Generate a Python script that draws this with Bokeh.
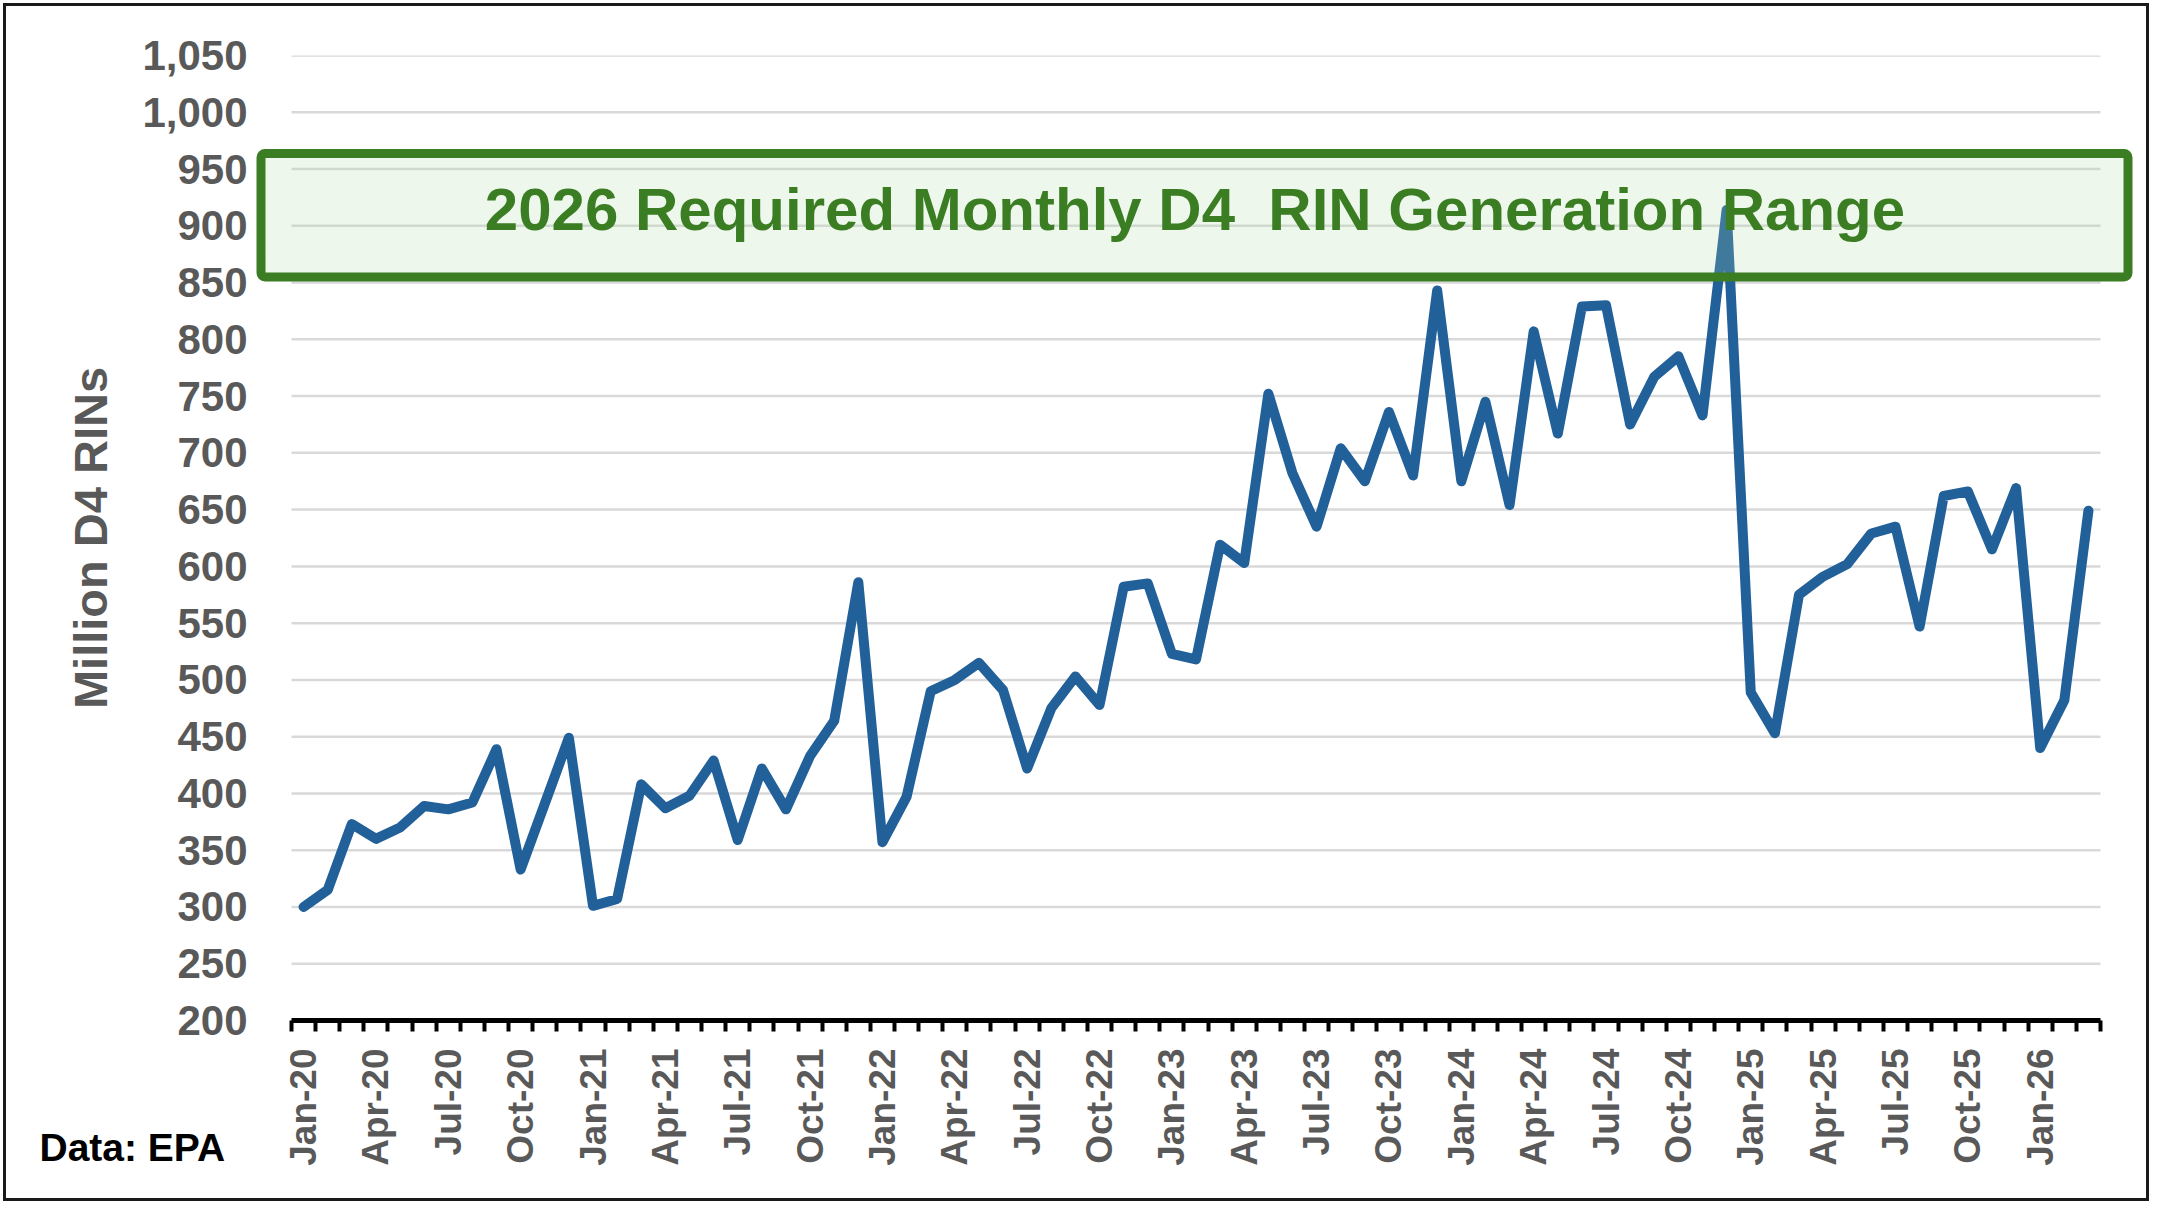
import math
from bokeh.plotting import figure
from bokeh.models import Range1d, FixedTicker, NumeralTickFormatter, BoxAnnotation, Label, Title
from bokeh.embed import file_html
from bokeh.resources import INLINE

# ---------------- data ----------------
month_names = ["Jan", "Feb", "Mar", "Apr", "May", "Jun",
               "Jul", "Aug", "Sep", "Oct", "Nov", "Dec"]
years = ["20", "21", "22", "23", "24", "25", "26"]
months = [f"{m}-{y}" for y in years for m in month_names][:75]   # Jan-20 .. Mar-26

d4_2020 = [300, 315, 373, 360, 370, 389, 386, 392, 439, 333, 391, 449]
d4_2021 = [301, 307, 408, 387, 398, 429, 359, 422, 386, 433, 464, 586]
d4_2022 = [357, 397, 490, 500, 515, 491, 422, 475, 503, 478, 582, 585]
d4_2023 = [523, 518, 619, 603, 752, 682, 635, 704, 675, 736, 680, 843]
d4_2024 = [675, 745, 654, 807, 717, 829, 830, 725, 767, 785, 733, 914]
d4_2025 = [489, 453, 575, 591, 602, 629, 635, 547, 662, 666, 615, 669]
d4_2026 = [440, 482, 649]
d4_rins = d4_2020 + d4_2021 + d4_2022 + d4_2023 + d4_2024 + d4_2025 + d4_2026

y_ticks = list(range(200, 1051, 50))
label_every = 3

title_text = "2026 Required Monthly D4\u00a0 RIN Generation Range"
source_text = "Data: EPA"
y_title = "Million D4 RINs"

# ---------------- layout (pixels on the page) ----------------
PAGE_W, PAGE_H = 2158, 1210
OFF = 6                                   # outer frame: 3px margin + 3px border
W, H = PAGE_W - 2 * OFF, PAGE_H - 2 * OFF
FRAME_L, FRAME_R, FRAME_T, FRAME_B = 252, 2136, 55, 1020   # plot frame (page px)
DATA_L, DATA_R = 291, 2100                                  # first / last month edges
Y0, Y1 = 200, 1050
n = len(months)
sx = (DATA_R - DATA_L) / n
sy = (FRAME_B - FRAME_T) / (Y1 - Y0)

def xd(px):
    return -0.5 + (px - DATA_L) / sx

def yd(py):
    return Y1 - (py - FRAME_T) / sy

FONT = "Liberation Sans"
GRAY = "#595959"
GREEN = "#3B7D23"
BLUE = "#22609A"

p = figure(width=W, height=H, output_backend="svg", toolbar_location=None,
           x_range=Range1d(xd(FRAME_L), xd(FRAME_R)), y_range=Range1d(Y0, Y1),
           min_border_left=FRAME_L - OFF, min_border_right=PAGE_W - OFF - FRAME_R,
           min_border_top=FRAME_T - OFF, min_border_bottom=PAGE_H - OFF - FRAME_B)
p.background_fill_color = "white"
p.border_fill_color = "white"
p.outline_line_color = None
p.styles = {"border": "3px solid #1A1A1A", "margin": "3px"}

# y axis
yt = FixedTicker(ticks=y_ticks)
p.yaxis.ticker = yt
p.yaxis.formatter = NumeralTickFormatter(format="0,0")
p.yaxis.axis_line_color = None
p.yaxis.major_tick_line_color = None
p.yaxis.minor_tick_line_color = None
p.yaxis.major_tick_out = 0
p.yaxis.major_tick_in = 0
p.yaxis.minor_tick_out = 0
p.yaxis.major_label_standoff = 5
p.yaxis.major_label_text_font = FONT
p.yaxis.major_label_text_font_size = "42px"
p.yaxis.major_label_text_font_style = "bold"
p.yaxis.major_label_text_color = GRAY
p.yaxis.axis_label = y_title
p.yaxis.axis_label_text_font = FONT
p.yaxis.axis_label_text_font_size = "47px"
p.yaxis.axis_label_text_font_style = "bold"
p.yaxis.axis_label_text_color = GRAY
p.yaxis.axis_label_standoff = 22

# horizontal gridlines, limited to the month span
p.xgrid.visible = False
p.ygrid.visible = False
p.segment(x0=[-0.5] * len(y_ticks), x1=[n - 0.5] * len(y_ticks),
          y0=y_ticks, y1=y_ticks, line_color="#D9D9D9", line_width=2.5)

# x axis
idx = list(range(n))
xt = FixedTicker(ticks=idx[::label_every],
                 minor_ticks=[i - 0.5 for i in range(n + 1)])
p.xaxis.ticker = xt
p.xaxis.bounds = (-0.5, n - 0.5)
p.xaxis.major_label_overrides = {i: months[i] for i in idx[::label_every]}
p.xaxis.major_label_orientation = math.pi / 2
p.xaxis.major_tick_out = 0
p.xaxis.major_tick_in = 0
p.xaxis.major_tick_line_color = None
p.xaxis.minor_tick_out = 11
p.xaxis.minor_tick_in = 0
p.xaxis.minor_tick_line_width = 4
p.xaxis.minor_tick_line_color = "black"
p.xaxis.axis_line_width = 5
p.xaxis.axis_line_color = "black"
p.xaxis.major_label_standoff = 17
p.xaxis.major_label_text_font = FONT
p.xaxis.major_label_text_font_size = "37px"
p.xaxis.major_label_text_font_style = "bold"
p.xaxis.major_label_text_color = GRAY

# data line
p.line(idx, d4_rins, line_width=10, line_color=BLUE,
       line_join="round", line_cap="round")

# required-range box (semi-transparent over the line)
box = BoxAnnotation(left=xd(260.5), right=xd(2127.5), top=yd(153), bottom=yd(276.5),
                    fill_color="#ADD89F", fill_alpha=0.21,
                    line_color=GREEN, line_width=9, line_alpha=1.0,
                    border_radius=4)
p.add_layout(box)

p.add_layout(Label(x=xd(1194.5), y=yd(208.5), text=title_text,
                   text_align="center", text_baseline="alphabetic",
                   text_font=FONT, text_font_size="60px",
                   text_font_style="bold", text_color=GREEN))

# source note, bottom-left
src = Title(text=source_text, align="left", vertical_align="top",
            offset=39 - FRAME_L, standoff=-85,
            text_font=FONT, text_font_size="39px",
            text_font_style="bold", text_color="black")
p.add_layout(src, "below")

open("out.html", "w").write(file_html(p, INLINE))
